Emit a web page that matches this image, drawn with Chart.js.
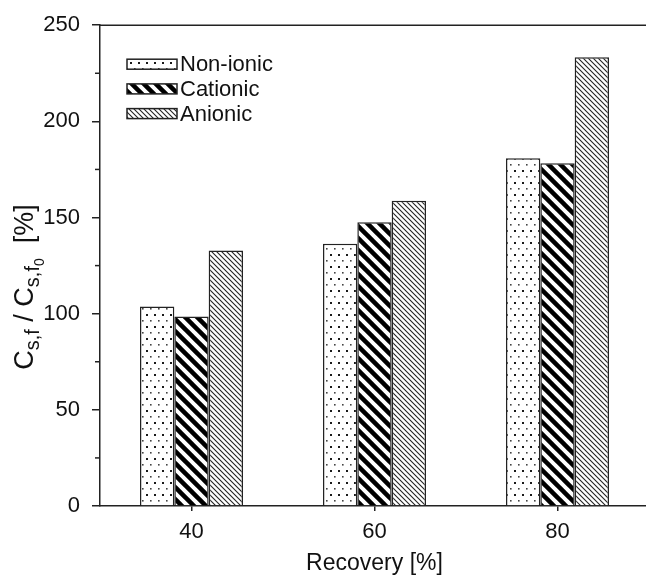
<!DOCTYPE html>
<html>
<head>
<meta charset="utf-8">
<script src="https://cdn.jsdelivr.net/npm/chart.js@4"></script>
<style>
html, body { margin: 0; padding: 0; background: #fff; overflow: hidden; }
</style>
</head>
<body>
<canvas id="myChart" width="652" height="579"></canvas>
<script>
// Données
const categories = ["40", "60", "80"];
const seriesLabels = ["Non-ionic", "Cationic", "Anionic"];
const nonIonic = [103.7, 136.3, 180.8];
const cationic = [98.5, 147.5, 178.2];
const anionic = [132.9, 158.7, 233.4];
const yMinorTicks = [25, 75, 125, 175, 225];

const fontFamily = "'Liberation Sans', Arial, sans-serif";
const ink = "#222";

// Motifs de remplissage (hachures)
function makePattern(w, h, draw) {
    const c = document.createElement("canvas");
    c.width = w; c.height = h;
    const g = c.getContext("2d");
    g.fillStyle = "#fff";
    g.fillRect(0, 0, w, h);
    draw(g, w);
    return g.createPattern(c, "repeat");
}

const ctxMain = document.getElementById("myChart").getContext("2d");

const dotPattern = makePattern(8, 12, (g) => {
    g.fillStyle = "#1a1a1a";
    g.fillRect(2, 2, 2, 2);
    g.fillStyle = "#444";
    g.fillRect(6, 8, 1.6, 1.6);
});

function diagonal(g, s, w, color) {
    g.strokeStyle = color;
    g.lineWidth = w;
    for (let k = -1; k <= 1; k++) {
        g.beginPath();
        g.moveTo(k * s - s, -s);
        g.lineTo(k * s + 2 * s, 2 * s);
        g.stroke();
    }
}

const thickStripes = makePattern(12, 12, (g, s) => diagonal(g, s, 4.5, "#000"));
const thinStripes = makePattern(5, 5, (g, s) => diagonal(g, s, 1.1, "#222"));

// Légende dessinée dans la zone du graphique
const boxLegend = {
    id: "boxLegend",
    afterDraw(chart) {
        const ctx = chart.ctx;
        const x0 = chart.chartArea.left + 27;
        const y0 = chart.chartArea.top + 34;
        ctx.save();
        chart.data.datasets.forEach((ds, i) => {
            const y = y0 + i * 24.7;
            ctx.fillStyle = ds.backgroundColor;
            ctx.fillRect(x0, y, 50, 10);
            ctx.strokeStyle = ink;
            ctx.lineWidth = 1.5;
            ctx.strokeRect(x0, y, 50, 10);
            ctx.fillStyle = "#111";
            ctx.font = "22px " + fontFamily;
            ctx.textBaseline = "middle";
            ctx.textAlign = "left";
            ctx.fillText(ds.label, x0 + 53, y + 6);
        });
        ctx.restore();
    }
};

// Cadre, graduations secondaires et titre de l'axe Y (avec indices)
const extras = {
    id: "extras",
    afterDraw(chart) {
        const ctx = chart.ctx;
        const a = chart.chartArea;
        const yScale = chart.scales.y;
        ctx.save();
        ctx.strokeStyle = ink;
        ctx.lineWidth = 1.5;
        ctx.beginPath();
        ctx.moveTo(a.left, a.top);
        ctx.lineTo(a.right, a.top);
        ctx.lineTo(a.right, a.bottom);
        ctx.stroke();

        yMinorTicks.forEach(v => {
            const py = yScale.getPixelForValue(v);
            ctx.beginPath();
            ctx.moveTo(a.left - 5, py);
            ctx.lineTo(a.left, py);
            ctx.stroke();
        });

        const parts = [
            { t: "C", size: 27, dy: 0 },
            { t: "s,f", size: 20, dy: 6 },
            { t: " / C", size: 27, dy: 0 },
            { t: "s,f", size: 20, dy: 6 },
            { t: "0", size: 14, dy: 11 },
            { t: "  [%]", size: 27, dy: 0 }
        ];
        let total = 0;
        parts.forEach(p => {
            ctx.font = p.size + "px " + fontFamily;
            p.w = ctx.measureText(p.t).width;
            total += p.w;
        });
        ctx.translate(33, 287);
        ctx.rotate(-Math.PI / 2);
        ctx.fillStyle = "#111";
        ctx.textBaseline = "alphabetic";
        ctx.textAlign = "left";
        let x = -total / 2;
        parts.forEach(p => {
            ctx.font = p.size + "px " + fontFamily;
            ctx.fillText(p.t, x, p.dy);
            x += p.w;
        });
        ctx.restore();
    }
};

function dataset(label, values, fill) {
    return {
        label: label,
        data: values,
        backgroundColor: fill,
        borderColor: ink,
        borderWidth: 1.5,
        barPercentage: 1,
        categoryPercentage: 0.563
    };
}

new Chart(ctxMain, {
    type: "bar",
    data: {
        labels: categories,
        datasets: [
            dataset(seriesLabels[0], nonIonic, dotPattern),
            dataset(seriesLabels[1], cationic, thickStripes),
            dataset(seriesLabels[2], anionic, thinStripes)
        ]
    },
    options: {
        responsive: false,
        animation: false,
        layout: { padding: { left: 0, top: 23, right: 3, bottom: 0 } },
        plugins: {
            legend: { display: false },
            tooltip: { enabled: false }
        },
        scales: {
            x: {
                afterFit: (scale) => { scale.height = 73; },
                grid: { offset: false, drawOnChartArea: false, drawTicks: true, tickLength: 5, color: ink, lineWidth: 1.5 },
                border: { display: true, color: ink, width: 1.5 },
                ticks: { padding: 8, color: "#111", font: { family: fontFamily, size: 22 } },
                title: {
                    display: true,
                    text: "Recovery [%]",
                    color: "#111",
                    font: { family: fontFamily, size: 23 },
                    padding: { top: 0, bottom: 2 }
                }
            },
            y: {
                min: 0,
                max: 250,
                afterFit: (scale) => { scale.width = 100; },
                grid: { drawOnChartArea: false, drawTicks: true, tickLength: 8, color: ink, lineWidth: 1.5 },
                border: { display: true, color: ink, width: 1.5 },
                ticks: { stepSize: 50, padding: 12, color: "#111", font: { family: fontFamily, size: 22 } }
            }
        }
    },
    plugins: [boxLegend, extras]
});
</script>
</body>
</html>
